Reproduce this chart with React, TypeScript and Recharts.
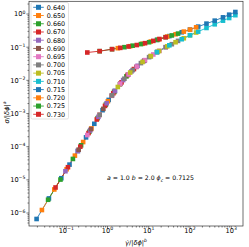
import React from 'react';
import { LineChart, Line, XAxis, YAxis } from 'recharts';

const phiLabels = ['0.640', '0.650', '0.660', '0.670', '0.680', '0.690', '0.695', '0.700', '0.705', '0.710', '0.715', '0.720', '0.725', '0.730'];
const colors = ['#1f77b4', '#ff7f0e', '#2ca02c', '#d62728', '#9467bd', '#8c564b', '#e377c2', '#7f7f7f', '#bcbd22', '#17becf', '#1f77b4', '#ff7f0e', '#2ca02c', '#d62728'];

const x0640 = [0.0191, 0.038, 0.0759, 0.12, 0.191, 0.302, 0.479, 0.759, 1.07, 1.51];
const y0640 = [6.61e-7, 2.75e-6, 1.12e-5, 2.88e-5, 7.41e-5, 1.91e-4, 4.9e-4, 1.26e-3, 2.57e-3, 4.79e-3];
const x0650 = [0.0257, 0.0513, 0.102, 0.162, 0.257, 0.407, 0.646, 1.02, 1.45, 2.04];
const y0650 = [1.23e-6, 5.13e-6, 2.09e-5, 5.37e-5, 1.38e-4, 3.55e-4, 9.12e-4, 2.34e-3, 4.47e-3, 7.94e-3];
const x0660 = [0.0363, 0.0724, 0.145, 0.229, 0.363, 0.575, 0.912, 1.45, 2.04, 2.88];
const y0660 = [2.51e-6, 1.02e-5, 4.27e-5, 1.1e-4, 2.82e-4, 7.24e-4, 1.86e-3, 4.47e-3, 7.94e-3, 1.32e-2];
const x0670 = [0.055, 0.11, 0.219, 0.347, 0.55, 0.871, 1.38, 2.19, 3.09, 4.37];
const y0670 = [5.89e-6, 2.4e-5, 1.0e-4, 2.57e-4, 6.61e-4, 1.7e-3, 4.07e-3, 8.71e-3, 1.45e-2, 2.19e-2];
const x0680 = [0.0955, 0.191, 0.38, 0.603, 0.955, 1.51, 2.4, 3.8, 5.37, 7.59];
const y0680 = [1.82e-5, 7.41e-5, 3.09e-4, 7.94e-4, 2.04e-3, 4.79e-3, 1.02e-2, 1.86e-2, 2.75e-2, 3.8e-2];
const x0690 = [0.2, 0.398, 0.794, 1.26, 2.0, 3.16, 5.01, 7.94, 11.2, 15.8];
const y0690 = [8.13e-5, 3.39e-4, 1.38e-3, 3.43e-3, 7.59e-3, 1.48e-2, 2.54e-2, 3.98e-2, 5.37e-2, 7.08e-2];
const x0695 = [0.324, 0.646, 1.29, 2.04, 3.24, 5.13, 8.13, 12.9, 18.2, 25.7];
const y0695 = [2.24e-4, 9.12e-4, 3.55e-3, 7.94e-3, 1.51e-2, 2.6e-2, 4.07e-2, 6.03e-2, 7.76e-2, 0.1];
const x0700 = [0.646, 1.29, 2.57, 4.07, 6.46, 10.2, 16.2, 25.7, 36.3, 51.3];
const y0700 = [9.12e-4, 3.55e-3, 1.12e-2, 2.04e-2, 3.31e-2, 5.01e-2, 7.24e-2, 0.1, 0.123, 0.155];
const x0705 = [1.78, 3.55, 7.08, 11.2, 17.8, 28.2, 44.7, 70.8, 100, 141];
const y0705 = [6.31e-3, 1.72e-2, 3.59e-2, 5.37e-2, 7.67e-2, 0.106, 0.141, 0.186, 0.229, 0.277];
const x0710 = [15.8, 31.6, 63.1, 100, 158, 251, 398, 631, 891, 1259];
const y0710 = [7.08e-2, 0.114, 0.174, 0.229, 0.295, 0.38, 0.49, 0.631, 0.759, 0.923];
const x0715 = [15.8, 31.6, 63.1, 100, 158, 251, 398, 631, 891, 1259];
const y0715 = [0.166, 0.216, 0.282, 0.339, 0.417, 0.513, 0.631, 0.794, 0.955, 1.15];
const x0720 = [1.78, 3.55, 7.08, 11.2, 17.8, 28.2, 44.7, 70.8, 100, 141];
const y0720 = [9.33e-2, 0.107, 0.127, 0.148, 0.174, 0.209, 0.245, 0.295, 0.339, 0.398];
const x0725 = [0.646, 1.29, 2.57, 4.07, 6.46, 10.2, 16.2, 25.7, 36.3, 51.3];
const y0725 = [7.59e-2, 8.71e-2, 0.1, 0.111, 0.124, 0.141, 0.166, 0.2, 0.226, 0.257];
const x0730 = [0.324, 0.646, 1.29, 2.04, 3.24, 5.13, 8.13, 12.9, 18.2, 25.7];
const y0730 = [6.92e-2, 7.59e-2, 8.71e-2, 9.55e-2, 0.105, 0.116, 0.132, 0.155, 0.176, 0.2];

const xsAll = [x0640, x0650, x0660, x0670, x0680, x0690, x0695, x0700, x0705, x0710, x0715, x0720, x0725, x0730];
const ysAll = [y0640, y0650, y0660, y0670, y0680, y0690, y0695, y0700, y0705, y0710, y0715, y0720, y0725, y0730];

const xMajor = [0.1, 1, 10, 100, 1000];
const xMajorExp = ['\u22121', '0', '1', '2', '3'];
const yMajor = [1e-6, 1e-5, 1e-4, 1e-3, 1e-2, 1e-1, 1];
const yMajorExp = ['\u22126', '\u22125', '\u22124', '\u22123', '\u22122', '\u22121', '0'];

const minorBetween = (lo: number, hi: number) => {
  const out: number[] = [];
  for (let e = -8; e <= 4; e++) {
    for (let k = 2; k <= 9; k++) {
      const v = k * Math.pow(10, e);
      if (v > lo && v < hi) out.push(v);
    }
  }
  return out;
};

const X_DOMAIN: [number, number] = [0.0125, 1928];
const Y_DOMAIN: [number, number] = [4.06e-7, 2.47];
const xMinor = minorBetween(X_DOMAIN[0], X_DOMAIN[1]);
const yMinor = minorBetween(Y_DOMAIN[0], Y_DOMAIN[1]);

const FONT = 'DejaVu Sans';

const majorIndex = (arr: number[], v: number) => arr.findIndex((m) => Math.abs(m - v) / m < 1e-6);

const XTick = (props: any) => {
  const { x, y, payload } = props;
  const i = majorIndex(xMajor, payload.value);
  const major = i >= 0;
  return (
    <g>
      <line x1={x} x2={x} y1={y} y2={y + (major ? 2.6 : 1.5)} stroke="#222" strokeWidth={0.6} />
      {major && (
        <text x={x} y={y + 7.2} textAnchor="middle" fontSize={6.6} fontFamily={FONT} fill="#000">
          10<tspan dy={-2.8} fontSize={4.6}>{xMajorExp[i]}</tspan>
        </text>
      )}
    </g>
  );
};

const YTick = (props: any) => {
  const { x, y, payload } = props;
  const i = majorIndex(yMajor, payload.value);
  const major = i >= 0;
  return (
    <g>
      <line x1={x} x2={x - (major ? 2.6 : 1.5)} y1={y} y2={y} stroke="#222" strokeWidth={0.6} />
      {major && (
        <text x={x - 3.6} y={y + 2.4} textAnchor="end" fontSize={6.6} fontFamily={FONT} fill="#000">
          10<tspan dy={-2.8} fontSize={4.6}>{yMajorExp[i]}</tspan>
        </text>
      )}
    </g>
  );
};

const SQ = 4.6;

export default function App() {
  const series = phiLabels.map((label, i) => ({
    label,
    color: colors[i],
    data: xsAll[i].map((xv, j) => ({ x: xv, y: ysAll[i][j] })),
  }));

  return (
    <div style={{ position: 'absolute', left: 0, top: 0, width: 249, height: 247, background: '#fff' }}>
      <LineChart width={249} height={247} margin={{ top: 1, right: 6, left: 0, bottom: 0 }}>
        <XAxis
          dataKey="x"
          type="number"
          scale="log"
          domain={X_DOMAIN}
          allowDataOverflow
          ticks={[...xMinor, ...xMajor]}
          interval={0}
          tick={<XTick />}
          tickLine={false}
          tickSize={0}
          tickMargin={0}
          axisLine={false}
          height={21}
        />
        <YAxis
          dataKey="y"
          type="number"
          scale="log"
          domain={Y_DOMAIN}
          allowDataOverflow
          ticks={[...yMinor, ...yMajor]}
          interval={0}
          tick={<YTick />}
          tickLine={false}
          tickSize={0}
          tickMargin={0}
          axisLine={false}
          width={29}
        />
        {series.map((s) => (
          <Line
            key={s.label}
            data={s.data}
            dataKey="y"
            type="linear"
            stroke={s.color}
            strokeWidth={0.9}
            isAnimationActive={false}
            dot={(p: any) => (
              <rect
                key={`${s.label}-${p.index}`}
                x={p.cx - SQ / 2}
                y={p.cy - SQ / 2}
                width={SQ}
                height={SQ}
                fill={s.color}
              />
            )}
            activeDot={false}
          />
        ))}
      </LineChart>
      <svg width={249} height={247} style={{ position: 'absolute', left: 0, top: 0, pointerEvents: 'none' }}>
        <rect x={29} y={1.3} width={214} height={224.7} fill="none" stroke="#333" strokeWidth={0.7} />
        <rect x={31} y={2.5} width={37.5} height={116.5} rx={1.5} fill="rgba(255,255,255,0.85)" stroke="#d0d0d0" strokeWidth={0.6} />
        {series.map((s, i) => {
          const cy = 7.3 + i * 8.23;
          return (
            <g key={s.label}>
              <line x1={33.2} x2={43.8} y1={cy} y2={cy} stroke={s.color} strokeWidth={0.9} />
              <rect x={38.5 - 2.5} y={cy - 2.5} width={5} height={5} fill={s.color} />
              <text x={46.8} y={cy + 2.3} fontSize={6.4} fontFamily={FONT} fill="#000">{s.label}</text>
            </g>
          );
        })}
        <text x={107} y={180} fontSize={6.2} fontFamily={FONT} fill="#000">
          <tspan fontStyle="italic">a</tspan> = 1.0 <tspan fontStyle="italic">b</tspan> = 2.0 <tspan fontStyle="italic">ϕ</tspan><tspan fontSize={4.4} dy={1.5} fontStyle="italic">c</tspan><tspan dy={-1.5}> = 0.7125</tspan>
        </text>
        <text x={136} y={245} textAnchor="middle" fontSize={6.6} fontFamily={FONT} fill="#000">
          <tspan fontStyle="italic">γ̇</tspan>/|<tspan fontStyle="italic">δϕ</tspan>|<tspan dy={-2.8} fontSize={4.6} fontStyle="italic">b</tspan>
        </text>
        <text transform="translate(8.5,112.5) rotate(-90)" textAnchor="middle" fontSize={6.6} fontFamily={FONT} fill="#000">
          <tspan fontStyle="italic">σ</tspan>/|<tspan fontStyle="italic">δϕ</tspan>|<tspan dy={-2.8} fontSize={4.6} fontStyle="italic">a</tspan>
        </text>
      </svg>
    </div>
  );
}
